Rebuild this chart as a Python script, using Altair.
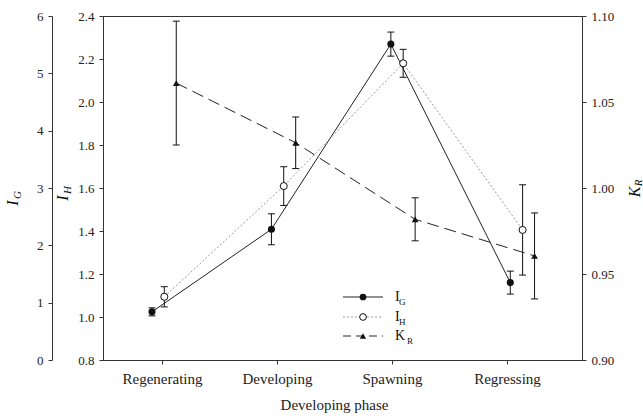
import json
import altair as alt
import pandas as pd

# ---------------- data ----------------
phases = ["Regenerating", "Developing", "Spawning", "Regressing"]
tick_pos = [1, 2, 3, 4]
spacing = 1.0385
offsets = {"IG": -0.087, "IH": 0.02, "KR": 0.124}

ig_vals = [0.84, 2.28, 5.51, 1.35]
ig_err = [0.07, 0.27, 0.21, 0.20]
ih_vals = [1.094, 1.609, 2.18, 1.405]
ih_err = [0.047, 0.09, 0.065, 0.21]
kr_vals = [1.061, 1.0263, 0.9818, 0.9605]
kr_err = [0.036, 0.015, 0.0125, 0.025]

ig_ticks = [0, 1, 2, 3, 4, 5, 6]
ih_ticks = [0.8, 1.0, 1.2, 1.4, 1.6, 1.8, 2.0, 2.2, 2.4]
kr_ticks = [0.90, 0.95, 1.00, 1.05, 1.10]

FONT = "Liberation Serif"
INK = "#111"


def frame(vals, errs, off):
    return pd.DataFrame({
        "x": [1 + spacing * i + off for i in range(len(vals))],
        "v": vals,
        "lo": [v - e for v, e in zip(vals, errs)],
        "hi": [v + e for v, e in zip(vals, errs)],
    })


df_ig = frame(ig_vals, ig_err, offsets["IG"])
df_ih = frame(ih_vals, ih_err, offsets["IH"])
df_kr = frame(kr_vals, kr_err, offsets["KR"])

x_enc = alt.X(
    "x:Q",
    scale=alt.Scale(domain=[0.487, 4.652], nice=False, zero=False),
    axis=alt.Axis(
        values=tick_pos,
        labelExpr=json.dumps(phases) + "[round(datum.value) - 1]",
        title="Developing phase",
        labelFontSize=15,
        titleFontSize=15,
        labelPadding=7,
        titlePadding=11,
        titleX=231,
        grid=False,
    ),
)


def series(df, domain, axis, line_kw, point_kw):
    sc = alt.Scale(domain=domain, nice=False, zero=False)
    base = alt.Chart(df)
    line = base.mark_line(**line_kw).encode(x=x_enc, y=alt.Y("v:Q", scale=sc, axis=axis))
    rule = base.mark_rule(color=INK, strokeWidth=1).encode(
        x=x_enc, y=alt.Y("lo:Q", scale=sc, axis=axis), y2="hi:Q")
    tlo = base.mark_tick(orient="horizontal", size=7, thickness=1, color=INK, opacity=1).encode(
        x=x_enc, y=alt.Y("lo:Q", scale=sc, axis=axis))
    thi = base.mark_tick(orient="horizontal", size=7, thickness=1, color=INK, opacity=1).encode(
        x=x_enc, y=alt.Y("hi:Q", scale=sc, axis=axis))
    pts = base.mark_point(opacity=1, **point_kw).encode(x=x_enc, y=alt.Y("v:Q", scale=sc, axis=axis))
    return alt.layer(line, rule, tlo, thi, pts)


ax_ig = alt.Axis(orient="left", offset=51, values=ig_ticks, format="d", title="", grid=False)
ax_ih = alt.Axis(orient="left", offset=0, values=ih_ticks, format=".1f", title="", grid=False)
ax_kr = alt.Axis(orient="right", offset=0, values=kr_ticks, format=".2f", title="", grid=False)

l_ig = series(df_ig, [0, 6], ax_ig,
              dict(color="#222", strokeWidth=1),
              dict(shape="circle", filled=True, color=INK, size=50))
l_ih = series(df_ih, [0.8, 2.4], ax_ih,
              dict(color="#999", strokeWidth=1, strokeDash=[2, 2]),
              dict(shape="circle", filled=True, fill="white", stroke=INK, strokeWidth=1, size=50))
l_kr = series(df_kr, [0.9, 1.1], ax_kr,
              dict(color="#222", strokeWidth=1, strokeDash=[12, 6]),
              dict(shape="triangle-up", filled=True, color=INK, size=45))

one = pd.DataFrame({"k": [0]})


def txt(s, x, y, size, italic=False, angle=0, align="center"):
    kw = dict(text=s, font=FONT, fontSize=size, color=INK, align=align, baseline="middle")
    if italic:
        kw["fontStyle"] = "italic"
    if angle:
        kw["angle"] = angle
    return alt.Chart(one).mark_text(**kw).encode(x=alt.value(x), y=alt.value(y))


# axis titles (rotated, with subscripts)
titles = [
    txt("I", -90, 187, 16, italic=True, angle=270),
    txt("G", -85, 179, 11, italic=True, angle=270),
    txt("I", -40, 182, 16, italic=True, angle=270),
    txt("H", -35, 174, 11, italic=True, angle=270),
    txt("K", 532, 176, 16, italic=True, angle=270),
    txt("R", 536, 167, 11, italic=True, angle=270),
]

# manual legend
legend = []
rows = [
    ("G", 281, dict(color="#222", strokeWidth=1), dict(shape="circle", filled=True, color=INK, size=45), "I", 296),
    ("H", 301, dict(color="#999", strokeWidth=1, strokeDash=[2, 2]),
     dict(shape="circle", filled=True, fill="white", stroke=INK, strokeWidth=1, size=45), "I", 296),
    ("R", 320, dict(color="#222", strokeWidth=1, strokeDash=[8, 5]),
     dict(shape="triangle-up", filled=True, color=INK, size=40), "K", 304),
]
for sub, y, lk, pk, main, subx in rows:
    legend.append(alt.Chart(one).mark_rule(**lk).encode(
        x=alt.value(240), x2=alt.value(280), y=alt.value(y)))
    legend.append(alt.Chart(one).mark_point(opacity=1, **pk).encode(
        x=alt.value(260), y=alt.value(y)))
    legend.append(txt(main, 292, y, 14, align="left"))
    legend.append(txt(sub, subx, y + 5, 9, align="left"))

chart = (
    alt.layer(l_ig, l_ih, l_kr, *titles, *legend)
    .resolve_scale(y="independent")
    .properties(
        width=479,
        height=344,
        padding={"left": 103, "top": 16, "right": 61, "bottom": 56},
        autosize=alt.AutoSizeParams(type="none"),
        background="white",
    )
    .configure_axis(
        labelFont=FONT,
        titleFont=FONT,
        labelFontSize=13,
        titleFontWeight="normal",
        labelColor="#222",
        titleColor="#222",
        domainColor="#333",
        tickColor="#333",
        tickSize=4,
        labelPadding=5,
    )
    .configure_view(stroke="#333", strokeWidth=1)
)

chart.save("out.html", embed_options={"renderer": "svg", "actions": False})
